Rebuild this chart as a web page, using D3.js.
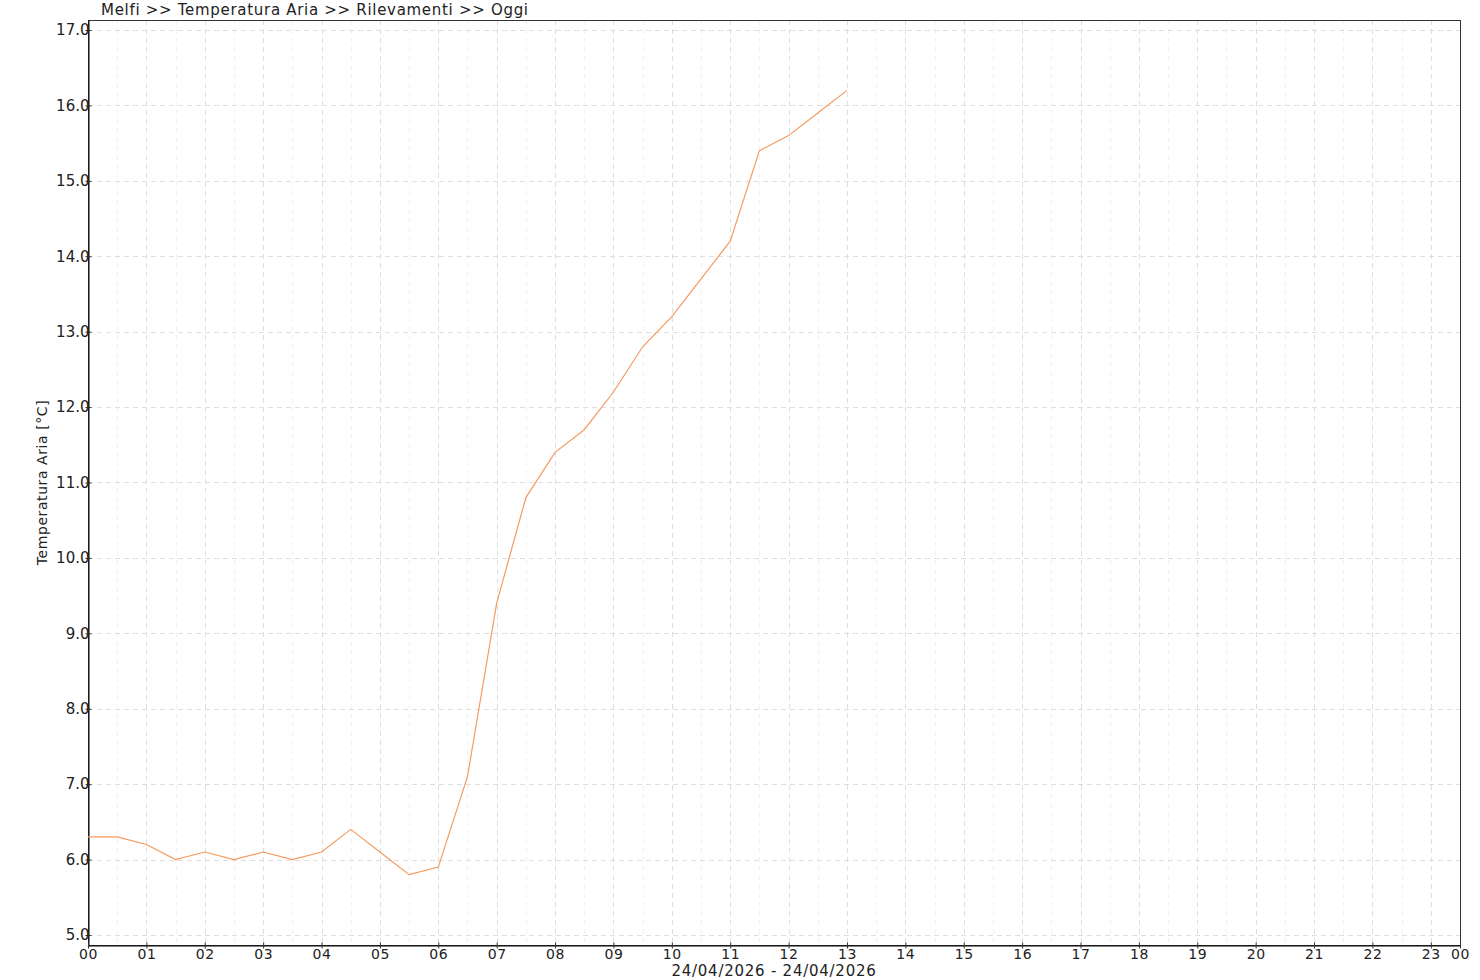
<!DOCTYPE html>
<html><head><meta charset="utf-8">
<script src="https://cdn.jsdelivr.net/npm/d3@7"></script>
<style>
body{margin:0;background:#fff;}
text{font-family:"DejaVu Sans",sans-serif;fill:#222;}
</style></head>
<body><svg id="c" width="1480" height="980"></svg>
<script>
const title = "Melfi >> Temperatura Aria >> Rilevamenti >> Oggi";
const yLabel = "Temperatura Aria [°C]";
const xLabel = "24/04/2026 - 24/04/2026";
const hours = [0,0.5,1,1.5,2,2.5,3,3.5,4,4.5,5,5.5,6,6.5,7,7.5,8,8.5,9,9.5,10,10.5,11,11.5,12,12.5,13];
const temps = [6.3,6.3,6.2,6.0,6.1,6.0,6.1,6.0,6.1,6.4,6.1,5.8,5.9,7.1,9.4,10.8,11.4,11.7,12.2,12.8,13.2,13.7,14.2,15.4,15.6,15.9,16.2];
const xTickValues = [0,1,2,3,4,5,6,7,8,9,10,11,12,13,14,15,16,17,18,19,20,21,22,23,23.5];
const xTickLabels = ["00","01","02","03","04","05","06","07","08","09","10","11","12","13","14","15","16","17","18","19","20","21","22","23","00"];
const yTickValues = [5,6,7,8,9,10,11,12,13,14,15,16,17];

const L=88,R=1460,T=20,B=945;
const svg=d3.select("#c");
const x=d3.scaleLinear().domain([0,23.5]).range([L,R]);
const y=d3.scaleLinear().domain([4.867,17.133]).range([B,T]);

// minor vertical grid (half hours)
const minor=d3.range(0.5,23.5,1);
svg.append("g").selectAll("line").data(minor).join("line")
  .attr("x1",d=>Math.round(x(d))+0.5).attr("x2",d=>Math.round(x(d))+0.5).attr("y1",T).attr("y2",B)
  .attr("stroke","#f1f1f1").attr("stroke-dasharray","5,4");
// major vertical grid
svg.append("g").selectAll("line").data(d3.range(1,24)).join("line")
  .attr("x1",d=>Math.round(x(d))+0.5).attr("x2",d=>Math.round(x(d))+0.5).attr("y1",T).attr("y2",B)
  .attr("stroke","#dedede").attr("stroke-dasharray","5,4");
// horizontal grid
svg.append("g").selectAll("line").data(yTickValues).join("line")
  .attr("x1",L).attr("x2",R).attr("y1",d=>Math.round(y(d))+0.5).attr("y2",d=>Math.round(y(d))+0.5)
  .attr("stroke","#dedede").attr("stroke-dasharray","5,4");

// frame
svg.append("rect").attr("x",L+0.5).attr("y",T+0.5).attr("width",R-L).attr("height",B-T)
  .attr("fill","none").attr("stroke","#333");

// axes
const yAxis=d3.axisLeft(y).tickValues(yTickValues).tickFormat(d3.format(".1f")).tickSizeInner(3).tickSizeOuter(0).tickPadding(-2);
const gy=svg.append("g").attr("transform",`translate(${L+0.5},0)`).call(yAxis);
gy.select(".domain").attr("stroke","#000");
gy.selectAll(".tick line").attr("x2",-3).attr("x1",3).attr("stroke","#333");
gy.selectAll(".tick text").attr("font-size",15).attr("font-family","DejaVu Sans").attr("fill","#222").attr("x",1);

const xAxis=d3.axisBottom(x).tickValues(xTickValues).tickFormat((d,i)=>xTickLabels[i]).tickSizeInner(3).tickSizeOuter(0).tickPadding(2);
const gx=svg.append("g").attr("transform",`translate(0,${B+0.5})`).call(xAxis);
gx.select(".domain").attr("stroke","#000");
gx.selectAll(".tick line").attr("y1",-3).attr("y2",3).attr("stroke","#333");
gx.selectAll(".tick text").attr("font-size",14).attr("font-family","DejaVu Sans").attr("fill","#222").attr("letter-spacing","0.6px").attr("dy","0.6em");

// line
svg.append("path").datum(hours.map((h,i)=>[h,temps[i]]))
  .attr("d",d3.line().x(d=>x(d[0])).y(d=>y(d[1])))
  .attr("fill","none").attr("stroke","#f59a5e").attr("stroke-width",1.2);

// labels
svg.append("text").attr("x",101).attr("y",15).attr("font-size",15).attr("letter-spacing","0.7px").text(title);
svg.append("text").attr("transform",`translate(47,${(T+B)/2}) rotate(-90)`).attr("text-anchor","middle").attr("font-size",14).attr("letter-spacing","0.57px").text(yLabel);
svg.append("text").attr("x",(L+R)/2).attr("y",976).attr("text-anchor","middle").attr("font-size",15).attr("letter-spacing","0.75px").text(xLabel);
</script></body></html>
